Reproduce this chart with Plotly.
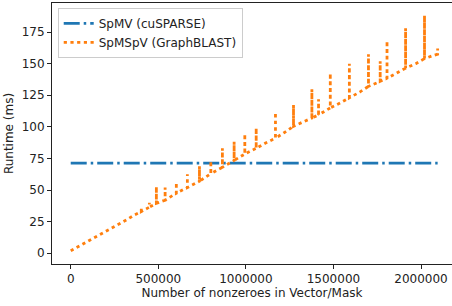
import plotly.graph_objects as go

# ---- data ----
spmv_nnz = [0, 2095000]
spmv_runtime = [71.3, 71.3]

spmspv_nnz = [0, 40000, 80000, 120000, 160000, 200000, 240000, 280000, 320000, 360000,
              403000, 449000, 489000, 539000, 603000, 666000, 735000, 800000, 866000, 933000,
              994000, 1059000, 1110000, 1169000, 1220000, 1272000, 1320000, 1377000, 1415000,
              1482000, 1540000, 1591000, 1650000, 1700000, 1767000, 1806000, 1860000, 1912000,
              1970000, 2020000, 2060000, 2095000]
spmspv_base = [2, 5, 8, 11, 14, 17, 20.5, 23.5, 26.5, 30,
               33, 36.5, 39.5, 42, 47.5, 52, 57, 63, 68, 73.5,
               78.5, 83, 87, 91, 95.5, 100.5, 103.5, 107, 109.5,
               115, 119, 123, 127.5, 132, 136, 138.5, 142.5, 146.5,
               150, 154, 156, 157.5]
spmspv_peak = [2, 5, 8, 11, 14, 17, 20.5, 23.5, 26.5, 30,
               36, 40, 52.7, 52, 56, 62.5, 69, 73, 83, 88.3,
               94.4, 99, 87, 111.5, 95.5, 117.3, 103.5, 129.7, 121.8,
               142.4, 119, 150, 127.5, 157.4, 152, 168, 142.5, 178,
               150, 188, 156, 162]

x_ticks = [0, 500000, 1000000, 1500000, 2000000]
y_ticks = [0, 25, 50, 75, 100, 125, 150, 175]

# build SpMSpV path (vertical excursions at repeated nnz)
px, py = [], []
for xv, b, p in zip(spmspv_nnz, spmspv_base, spmspv_peak):
    px.append(xv); py.append(b)
    if p != b:
        px.extend([xv, xv]); py.extend([p, b])

FONT = "DejaVu Sans"
FS = 12
TXT = "#222222"

fig = go.Figure()
fig.add_trace(go.Scatter(
    x=spmv_nnz, y=spmv_runtime, mode="lines", name="SpMV (cuSPARSE)",
    line=dict(color="#1f77b4", width=2.7, dash="16px,4px,2.5px,4px")))
fig.add_trace(go.Scatter(
    x=px, y=py, mode="lines", name="SpMSpV (GraphBLAST)",
    line=dict(color="#ff7f0e", width=2.8, dash="3.2px,3.5px")))

axis_common = dict(showline=True, linecolor="#222222", linewidth=1, ticks="outside",
                   ticklen=4, tickcolor="#222222", tickwidth=1, showgrid=False,
                   zeroline=False, automargin=False,
                   tickfont=dict(family=FONT, size=FS, color=TXT))

fig.update_layout(
    width=452, height=306,
    margin=dict(l=52, r=0, t=3, b=42),
    paper_bgcolor="white", plot_bgcolor="white",
    font=dict(family=FONT, size=FS, color=TXT),
    showlegend=True,
    legend=dict(x=0.0143, y=0.981, xanchor="left", yanchor="top",
                bgcolor="rgba(255,255,255,0.8)", bordercolor="#cccccc", borderwidth=1,
                font=dict(family=FONT, size=FS, color=TXT),
                tracegroupgap=0, itemwidth=30),
    xaxis=dict(range=[-106900, 2177000], tickvals=x_ticks,
               ticktext=[str(v) for v in x_ticks], mirror=True,
               title=dict(text="Number of nonzeroes in Vector/Mask",
                          font=dict(family=FONT, size=FS, color=TXT), standoff=3),
               **axis_common),
    yaxis=dict(range=[-8.5, 198.0], tickvals=y_ticks,
               ticktext=[str(v) for v in y_ticks],
               title=dict(text="Runtime (ms)",
                          font=dict(family=FONT, size=FS, color=TXT), standoff=5),
               **axis_common),
)

fig.write_html("out.html",
               config={"displayModeBar": False},
               post_script="document.body.style.margin='0';document.body.style.padding='0';"
                           "document.body.style.overflow='hidden';")
